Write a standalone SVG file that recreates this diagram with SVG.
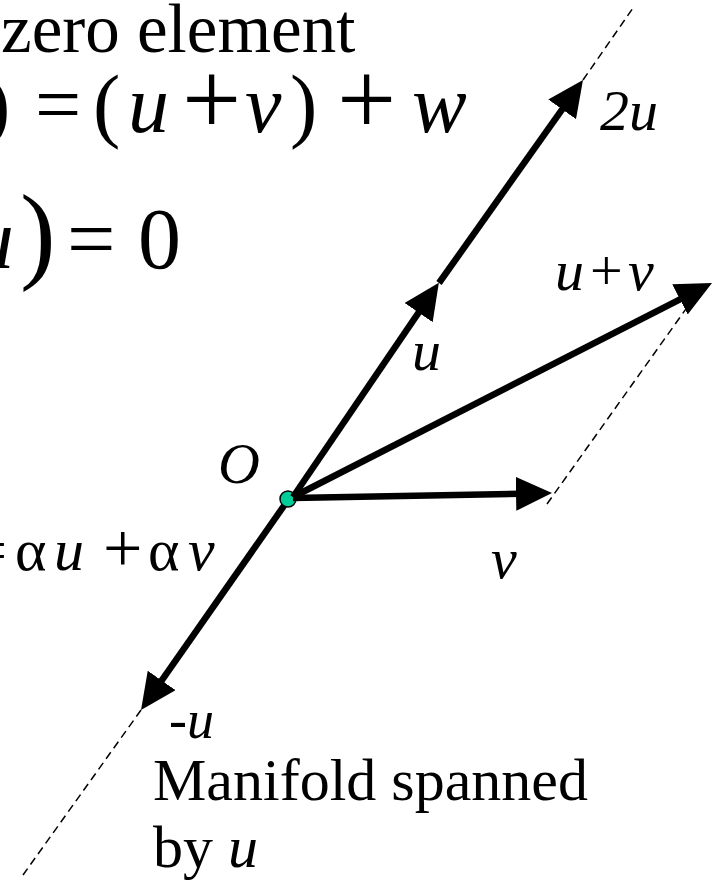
<svg xmlns="http://www.w3.org/2000/svg" width="721" height="890" viewBox="0 0 721 890">
<style>
text{font-family:"Liberation Serif","Times New Roman",serif;fill:#000}
.i{font-style:italic}
.vec{stroke:#000;stroke-width:6.5;fill:none;marker-end:url(#ah)}
.dash{stroke:#000;stroke-width:1.5;stroke-dasharray:8 5;fill:none}
.eq{font-size:82px}
.eq3{font-size:86px}
.eq4{font-size:60px}
.lbl{font-size:58px}
.txt{font-size:60px}
</style>
<defs>
<marker id="ah" markerUnits="userSpaceOnUse" markerWidth="36" markerHeight="34" viewBox="0 0 36 34" refX="16" refY="17" orient="auto">
<path d="M0,0 L36,17 L0,34 z" fill="#000"/>
</marker>
</defs>
<rect width="721" height="890" fill="#fff"/>

<g id="title">
<text x="1" y="52" style="font-size:69px">zero element</text>
</g>

<g id="equation1">
<text class="eq" x="-17" y="132">)</text>
<text class="eq" x="35" y="132">=</text>
<text class="eq" x="93" y="132">(</text>
<text class="eq i" x="128" y="132">u</text>
<text x="182" y="135" style="font-size:105px">+</text>
<text class="eq i" x="245" y="132">v</text>
<text class="eq" x="290" y="132">)</text>
<text x="337" y="135" style="font-size:105px">+</text>
<text class="eq i" x="412" y="132">w</text>
</g>

<g id="equation2">
<text class="eq3 i" x="-29" y="268">u</text>
<text x="20" y="269" style="font-size:107px">)</text>
<text class="eq3" x="67" y="268">=</text>
<text class="eq3" x="138" y="268">0</text>
</g>

<g id="equation3">
<text class="eq4" x="-27" y="570">=</text>
<text class="eq4" x="15" y="570">α</text>
<text class="eq4 i" x="54" y="570">u</text>
<text x="103" y="572" style="font-size:70px">+</text>
<text class="eq4" x="148" y="570">α</text>
<text class="eq4 i" x="188" y="570">v</text>
</g>

<g id="connectors">
<line class="dash" x1="583" y1="80" x2="633" y2="8"/>
<line class="dash" x1="141" y1="710" x2="23" y2="875"/>
<line class="dash" x1="547" y1="504" x2="703" y2="285"/>
<line class="vec" x1="288" y1="500" x2="152.5" y2="693.6"/>
</g>

<g id="origin">
<circle cx="288" cy="499" r="8" fill="#00cc99" stroke="#000" stroke-width="1.5"/>
<text class="lbl i" x="218" y="483">O</text>
</g>

<g id="vectors">
<line class="vec" x1="293" y1="497" x2="427.6" y2="299.4"/>
<line class="vec" x1="439" y1="283" x2="571.4" y2="96.3"/>
<line class="vec" x1="293" y1="497" x2="694.2" y2="292.1"/>
<line class="vec" x1="293" y1="498" x2="532" y2="493.5"/>
</g>

<g id="labels">
<text class="lbl i" x="600" y="130">2u</text>
<text class="lbl" x="555" y="290"><tspan class="i">u</tspan><tspan x="590">+</tspan><tspan class="i" x="628">v</tspan></text>
<text class="lbl i" x="412" y="370">u</text>
<text class="lbl i" x="491" y="578">v</text>
<text class="i" x="169" y="738" style="font-size:54px">-u</text>
</g>

<g id="caption">
<text class="txt" x="153" y="800">Manifold spanned</text>
<text class="txt" x="153" y="867">by <tspan class="i">u</tspan></text>
</g>
</svg>
